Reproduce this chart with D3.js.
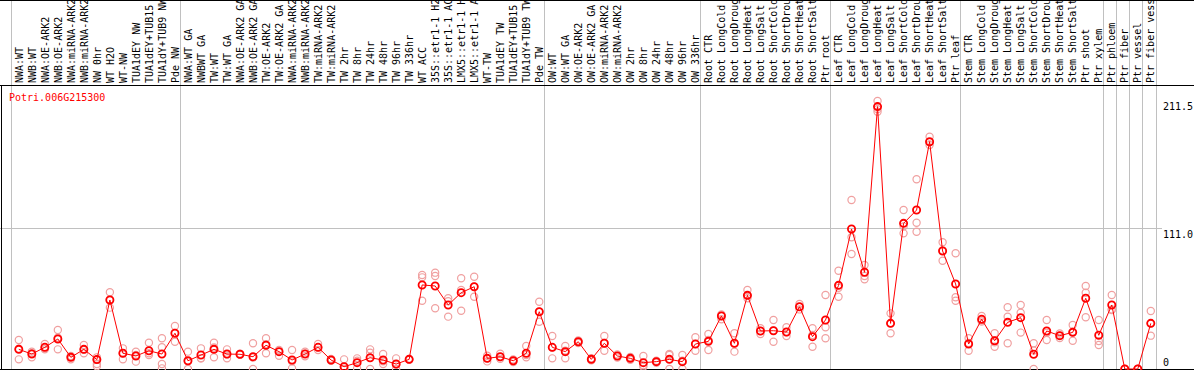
<!DOCTYPE html>
<html>
<head>
<meta charset="utf-8">
<script src="https://cdn.jsdelivr.net/npm/d3@7"></script>
<style>
  body { margin: 0; background: #fff; }
  svg { display: block; }
  text { font-family: "DejaVu Sans Mono", monospace; font-size: 10px; }
</style>
</head>
<body>
<div id="chart"></div>
<script>
var geneId = "Potri.006G215300";

var samples = [
  "NWA:WT", "NWB:WT", "NWA:OE-ARK2", "NWB:OE-ARK2", "NWA:miRNA-ARK2", "NWB:miRNA-ARK2",
  "NW 0hr", "WT H2O", "WT-NW", "TUA1dEY NW", "TUA1dEY+TUB15 NW", "TUA1dY+TUB9 NW", "Pde NW",
  "NWA:WT GA", "NWBWT GA", "TW:WT", "TW:WT GA", "NWA:OE-ARK2 GA", "NWB:OE-ARK2 GA",
  "TW:OE-ARK2", "TW:OE-ARK2 GA", "NWA:miRNA-ARK2", "NWB:miRNA-ARK2", "TW:miRNA-ARK2", "TW:miRNA-ARK2",
  "TW 2hr", "TW 8hr", "TW 24hr", "TW 48hr", "TW 96hr", "TW 336hr", "WT ACC",
  "35S::etr1-1 H2O", "35S::etr1-1 ACC", "LMX5::etr1-1 H2O", "LMX5::etr1-1 ACC",
  "WT-TW", "TUA1dEY TW", "TUA1dEY+TUB15 TW", "TUA1dY+TUB9 TW", "Pde TW",
  "OW:WT", "OW:WT GA", "OW:OE-ARK2", "OW:OE-ARK2 GA", "OW:miRNA-ARK2", "OW:miRNA-ARK2",
  "OW 2hr", "OW 8hr", "OW 24hr", "OW 48hr", "OW 96hr", "OW 336hr",
  "Root CTR", "Root LongCold", "Root LongDrought", "Root LongHeat", "Root LongSalt",
  "Root ShortCold", "Root ShortDrought", "Root ShortHeat", "Root ShortSalt", "Ptr root",
  "Leaf CTR", "Leaf LongCold", "Leaf LongDrought", "Leaf LongHeat", "Leaf LongSalt",
  "Leaf ShortCold", "Leaf ShortDrought", "Leaf ShortHeat", "Leaf ShortSalt", "Ptr leaf",
  "Stem CTR", "Stem LongCold", "Stem LongDrought", "Stem LongHeat", "Stem LongSalt",
  "Stem ShortCold", "Stem ShortDrought", "Stem ShortHeat", "Stem ShortSalt", "Ptr shoot",
  "Ptr xylem", "Ptr phloem", "Ptr fiber", "Ptr vessel", "Ptr fiber vessel"
];

// mean expression per sample
var means = [
  15.5, 11.8, 17.1, 23.7, 9.2, 15.5, 7.4, 54.4, 12.4, 10.3, 14.4, 11.8, 28.2,
  6.5, 11, 15.5, 11.8, 11.6, 9.7, 18.7, 13.7, 7.1, 11.8, 17.1, 7.1, 1.8, 5, 8.9, 7.1, 3.9, 7.6,
  66.3, 65.5, 50.5, 60.2, 64.9, 8.4, 9.7, 6.5, 12.4, 45.2,
  17.1, 13.7, 21.5, 7.6, 20.3, 10.3, 8.4, 5, 5.8, 7.6, 5.8, 19.7,
  21.8, 41.8, 20.3, 58.1, 30, 30.2, 29.2, 49.1, 25.5, 38.7,
  66, 110.4, 76.3, 207, 36, 114.9, 125.4, 179.3, 93.1, 67.1,
  19.7, 39.2, 22.3, 36.8, 40.5, 11.6, 30, 26.3, 28.9, 55.8, 26.6,
  50.5, 0, 0, 36
];

// individual replicates per sample
var replicates = [
  [22.9, 16, 7.6], [13.7, 12.5, 9.2], [19.7, 16.2, 15.5], [30.8, 24.7, 15.5], [10.3, 9.8, 7.6],
  [18.9, 15.2, 12.4], [9.2, 7.5, 3.9, 2.2], [60.5, 54.4, 48.4], [16.3, 12.4, 7.6], [13.7, 11, 5.8],
  [20.7, 12.4, 11], [24.2, 17.1, 3.9, 0.5], [33.9, 28.5, 21.5],
  [13.7, 6, 0], [16.3, 8.4, 8.5], [20.7, 17, 9.2], [15.5, 11.5, 8.4], [12, 11.5, 11.2],
  [20.3, 9, 0], [24.2, 19.5, 12.4], [15, 13.5, 10.5], [15, 6, 0.5], [13.7, 12, 10],
  [19.7, 17, 15], [8, 7, 6.5], [7.6, 0, 0], [8.4, 6.5, 0.5], [15.5, 12.9, 0],
  [11.8, 6, 3.9], [8.4, 3.5, 0], [8, 7.5, 7.2], [74.2, 72.3, 53.9],
  [76, 73.4, 47.9], [55.8, 53.5, 41.3], [71.6, 62.3, 46], [72.8, 64.9, 57],
  [10.5, 8.4, 6], [12, 9.5, 8], [7.5, 6.5, 5.5], [18.1, 11, 9.2], [53.1, 45.2, 37.3],
  [26, 17, 8.4], [18.1, 14.5, 8.4], [22.5, 21.5, 20.5], [8.5, 7.6, 6.8], [26, 20.5, 14.4],
  [11.5, 10.3, 9], [9.5, 8.4, 7.3], [10.3, 3, 1.8], [6.5, 5.8, 5], [11.8, 11, 0],
  [11, 6.5, 0], [25, 19.7, 14.4],
  [27.6, 23, 15], [43, 41.8, 39.2], [28.2, 20, 13.7], [62.3, 58.1, 55.8], [32.1, 30, 27.6],
  [38.7, 30.4, 21.5], [32.9, 29, 26], [51.3, 49, 47], [32.1, 26.8, 17.6], [58.4, 32.9, 24.2],
  [77.5, 64, 57], [133.3, 103.9, 90.7], [82, 73.4, 70.8], [211.5, 205, 203], [43.9, 36, 28.2],
  [125.4, 112.5, 107], [149.7, 115.4, 108.3], [183.3, 179, 176.7], [100, 93.5, 85.4], [91.3, 56.6, 53.9],
  [24.2, 20.5, 14.4], [41.8, 38.5, 37.5], [28.2, 21, 17.6], [48.7, 41.3, 20.3], [50.5, 44.4, 28.7],
  [20.3, 14.5, 0], [38.7, 28.5, 22.9], [28, 26.3, 24.5], [34.7, 29.5, 22.3], [65.5, 60.2, 40.8],
  [38.7, 22, 18.9], [58.4, 47, 46.5], [0, 0, 0], [0, 0, 0], [45.8, 36, 26.3]
];

// sample indices where a group separator is drawn
var separators = [0, 13, 41, 53, 63, 73, 84, 85, 86, 87, 88];
var yTicks = [0, 111.0, 211.5];
var yTickLabels = ["0", "111.0", "211.5"];

var width = 1194, height = 370;
var headerBottom = 85, plotBottom = 369;

var svg = d3.select("#chart").append("svg")
  .attr("width", width)
  .attr("height", height);

var x = d3.scaleLinear().domain([0, samples.length]).range([10.5, 1155.5]);
var y = d3.scaleLinear().domain([0, 211.5]).range([plotBottom, 100.9]);
var pointOffset = 8.3;
var px = function(i) { return x(i) + pointOffset; };

// gray separators (full height)
svg.append("g").selectAll("line")
  .data(separators)
  .join("line")
  .attr("x1", d => Math.round(x(d)) + 0.5)
  .attr("x2", d => Math.round(x(d)) + 0.5)
  .attr("y1", 0)
  .attr("y2", height)
  .attr("stroke", "#c0c0c0")
  .attr("stroke-width", 1);

// horizontal grid line at the mid tick
svg.append("line")
  .attr("x1", 0).attr("x2", 1162)
  .attr("y1", Math.round(y(111.0)) + 0.5)
  .attr("y2", Math.round(y(111.0)) + 0.5)
  .attr("stroke", "#c0c0c0");

// frame
svg.append("line").attr("x1", 0).attr("x2", width).attr("y1", 0.5).attr("y2", 0.5).attr("stroke", "#000");
svg.append("line").attr("x1", 0).attr("x2", width).attr("y1", headerBottom + 0.5).attr("y2", headerBottom + 0.5).attr("stroke", "#000");
svg.append("line").attr("x1", 0).attr("x2", width).attr("y1", plotBottom + 0.5).attr("y2", plotBottom + 0.5).attr("stroke", "#000");
svg.append("line").attr("x1", 1.5).attr("x2", 1.5).attr("y1", headerBottom).attr("y2", height).attr("stroke", "#000");

// rotated sample labels
svg.append("g").selectAll("text")
  .data(samples)
  .join("text")
  .attr("transform", (d, i) => `translate(${x(i) + 12},83) rotate(-90)`)
  .attr("fill", "#000")
  .text(d => d);

// gene id
svg.append("text")
  .attr("x", 9)
  .attr("y", 100.5)
  .attr("fill", "#ff0000")
  .text(geneId);

// y tick labels
svg.append("g").selectAll("text")
  .data(yTicks)
  .join("text")
  .attr("x", 1163)
  .attr("y", d => d === 0 ? y(d) - 3 : y(d) + 9.5)
  .attr("fill", "#000")
  .text((d, i) => yTickLabels[i]);

// replicate points
var repPoints = [];
replicates.forEach((reps, i) => reps.forEach(v => repPoints.push({ i: i, v: v })));

svg.append("g").selectAll("circle")
  .data(repPoints)
  .join("circle")
  .attr("cx", d => px(d.i))
  .attr("cy", d => y(d.v))
  .attr("r", 3.6)
  .attr("fill", "none")
  .attr("stroke", "#f0a0a0")
  .attr("stroke-width", 1.2);

// mean line
var line = d3.line()
  .x((d, i) => px(i))
  .y(d => y(d));

svg.append("path")
  .datum(means)
  .attr("d", line)
  .attr("fill", "none")
  .attr("stroke", "#ff0000")
  .attr("stroke-width", 1);

svg.append("g").selectAll("circle")
  .data(means)
  .join("circle")
  .attr("cx", (d, i) => px(i))
  .attr("cy", d => y(d))
  .attr("r", 3.6)
  .attr("fill", "none")
  .attr("stroke", "#ff0000")
  .attr("stroke-width", 1.8);
</script>
</body>
</html>
